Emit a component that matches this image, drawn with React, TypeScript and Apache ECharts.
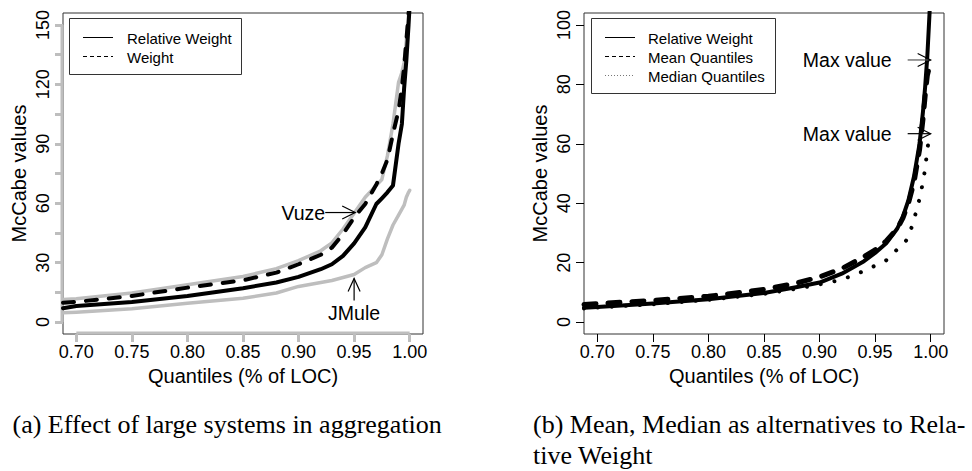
import React, { useEffect, useRef } from "react";
import * as echarts from "echarts";

// ---------- data ----------
const xTicks = [0.7, 0.75, 0.8, 0.85, 0.9, 0.95, 1.0];
const yTicksA = [0, 15, 30, 45, 60, 75, 90, 105, 120, 135, 150];
const yLabelsA = [0, 30, 60, 90, 120, 150];
const yTicksB = [0, 20, 40, 60, 80, 100];

// panel (a)
const quantA = [0.688, 0.7, 0.75, 0.8, 0.85, 0.88, 0.9, 0.92, 0.93, 0.94, 0.95, 0.96, 0.97, 0.975, 0.98, 0.985, 0.99, 0.993, 0.995, 0.997, 0.999, 1.0];
const relWeightA = [7, 8.1, 10.2, 13.2, 17.1, 20, 22.8, 26.7, 29.2, 33.4, 39.7, 47.8, 59.6, 62.5, 65.5, 69, 90, 100, 118, 132, 150, 160];
const weightA = [9.8, 10.2, 13.2, 17.4, 21.1, 25, 29.2, 34, 37.6, 44.4, 52.8, 59.6, 69.5, 75, 82, 95, 106.8, 118.6, 128.7, 142, 155.7, 160];
const vuzeA = [11.4, 11.8, 14.7, 18.9, 23, 27, 31, 36, 40, 47, 55, 63, 69, 72, 84, 100, 121, 126, 131, 142, 155, 160];
const jmuleA = [4.7, 5, 6.7, 9.5, 12, 14.7, 18, 20, 21, 22.5, 24, 27.5, 30, 34, 42, 49, 54, 57, 59, 63, 65.5, 66.5];

// panel (b)
const quantB = [0.688, 0.7, 0.75, 0.8, 0.85, 0.88, 0.9, 0.92, 0.94, 0.95, 0.96, 0.97, 0.975, 0.98, 0.985, 0.99, 0.993, 0.995, 0.997, 0.999, 1.0];
const relWeightB = [4.8, 5.1, 6.25, 7.7, 9.8, 11.8, 13.3, 16.3, 20.5, 23.3, 26.5, 31.5, 35.5, 41, 49, 60, 70.5, 79, 89.5, 104, 115];
const meanQB = [5.9, 6.2, 7.3, 8.7, 11, 13.2, 15.2, 18, 22, 24.3, 27.3, 31.5, 35, 40, 47, 58, 68, 76, 83, 86, 88.2];
const medianQB = [4.6, 4.9, 6, 7.5, 9.5, 11.3, 12.7, 14.3, 17.2, 19, 20.8, 24.5, 26, 28.5, 34.5, 41.5, 47, 51.5, 58, 63, 63.4];

const xTitle = "Quantiles (% of LOC)";
const yTitle = "McCabe values";
const legendA = ["Relative Weight", "Weight"];
const legendB = ["Relative Weight", "Mean Quantiles", "Median Quantiles"];
const captionA = "(a) Effect of large systems in aggregation";
const captionB1 = "(b) Mean, Median as alternatives to Rela-";
const captionB2 = "tive Weight";

const zip = (xs: number[], ys: number[]) => xs.map((x, i) => [x, ys[i]]);

const SANS = "Liberation Sans";
const SERIF = "Liberation Serif";

export default function App() {
  const ref = useRef<HTMLDivElement>(null);
  useEffect(() => {
    const el = ref.current!;
    const chart = echarts.init(el, undefined, { renderer: "svg" });

    const xAxisFor = (gridIndex: number, tickColor: string, tickWidth: number) => ({
      type: "value",
      gridIndex,
      min: 0.688,
      max: 1.012,
      axisLine: { show: false, onZero: false },
      splitLine: { show: false },
      axisTick: { show: true, customValues: xTicks, length: 8, lineStyle: { color: tickColor, width: tickWidth } },
      axisLabel: {
        customValues: xTicks,
        formatter: (v: number) => v.toFixed(2),
        margin: 9,
        fontSize: 18,
        color: "#000",
        fontFamily: SANS,
      },
      name: xTitle,
      nameLocation: "middle",
      nameGap: 32,
      nameTextStyle: { fontSize: 20, color: "#000", fontFamily: SANS },
    });

    const yAxisFor = (
      gridIndex: number,
      min: number,
      max: number,
      ticks: number[],
      labels: number[],
      tickColor: string,
      tickWidth: number
    ) => ({
      type: "value",
      gridIndex,
      min,
      max,
      axisLine: { show: false, onZero: false },
      splitLine: { show: false },
      axisTick: { show: true, customValues: ticks, length: 8, lineStyle: { color: tickColor, width: tickWidth } },
      axisLabel: { customValues: labels, rotate: 90, margin: 11, fontSize: 18, color: "#000", fontFamily: SANS },
      name: yTitle,
      nameLocation: "middle",
      nameGap: 34,
      nameTextStyle: { fontSize: 20, color: "#000", fontFamily: SANS },
    });

    const line = (xi: number, data: number[][], color: string, width: number, type: any, z: number) => ({
      type: "line",
      xAxisIndex: xi,
      yAxisIndex: xi,
      data,
      symbol: "none",
      showSymbol: false,
      silent: true,
      z,
      lineStyle: { color, width, type, cap: "round", join: "round" },
    });

    chart.setOption({
      animation: false,
      backgroundColor: "#fff",
      textStyle: { fontFamily: SANS },
      grid: [
        { left: 63, top: 13, width: 360, height: 321, show: true, borderColor: "#333", borderWidth: 1, backgroundColor: "transparent" },
        { left: 584, top: 13, width: 360, height: 321, show: true, borderColor: "#333", borderWidth: 1, backgroundColor: "transparent" },
      ],
      xAxis: [xAxisFor(0, "#bebebe", 3), xAxisFor(1, "#000", 1)],
      yAxis: [
        yAxisFor(0, -6, 156, yTicksA, yLabelsA, "#bebebe", 3),
        yAxisFor(1, -4, 104, yTicksB, yTicksB, "#000", 1),
      ],
      series: [
        line(0, zip(quantA, vuzeA), "#bebebe", 3.5, "solid", 2),
        line(0, zip(quantA, jmuleA), "#bebebe", 3.5, "solid", 2),
        line(0, zip(quantA, weightA), "#000", 4, [11, 12], 3),
        line(0, zip(quantA, relWeightA), "#000", 4, "solid", 4),
        line(1, zip(quantB, medianQB), "#000", 4, [0.01, 14], 2),
        line(1, zip(quantB, meanQB), "#000", 5, [12, 12], 3),
        line(1, zip(quantB, relWeightB), "#000", 4, "solid", 4),
      ],
    });

    const px = (g: number, p: number[]) => chart.convertToPixel({ gridIndex: g } as any, p) as number[];

    const arrowRight = (tip: number[], len: number, color: string) => [
      { type: "line", shape: { x1: tip[0] - len, y1: tip[1], x2: tip[0], y2: tip[1] }, style: { stroke: color, lineWidth: 1.2 }, z: 10 },
      {
        type: "polyline",
        shape: { points: [[tip[0] - 13, tip[1] - 6.5], tip, [tip[0] - 13, tip[1] + 6.5]] },
        style: { stroke: "#000", lineWidth: 1.2, fill: "none" },
        z: 10,
      },
    ];
    const arrowUp = (tip: number[], len: number) => [
      { type: "line", shape: { x1: tip[0], y1: tip[1] + len, x2: tip[0], y2: tip[1] }, style: { stroke: "#000", lineWidth: 1.2 }, z: 10 },
      {
        type: "polyline",
        shape: { points: [[tip[0] - 6, tip[1] + 13], tip, [tip[0] + 6, tip[1] + 13]] },
        style: { stroke: "#000", lineWidth: 1.2, fill: "none" },
        z: 10,
      },
    ];
    const txt = (text: string, x: number, y: number, size: number, align: string, family = SANS) => ({
      type: "text",
      x,
      y,
      z: 10,
      style: { text, fontSize: size, fontFamily: family, fill: "#000", align, verticalAlign: "middle" },
    });

    // axis lines (R-style, from first to last tick)
    const a0 = px(0, [0.7, -6]);
    const a1 = px(0, [1.0, -6]);
    const b0 = px(0, [0.688, 0]);
    const b1 = px(0, [0.688, 150]);

    const vuzeTip = px(0, [0.951, 55.3]);
    const jmuleTip = px(0, [0.95, 22]);
    const max1 = px(1, [1.0, 88.2]);
    const max2 = px(1, [1.0, 63.4]);

    const legendBox = (x: number, y: number, w: number, h: number) => ({
      type: "rect",
      shape: { x, y, width: w, height: h },
      style: { stroke: "#333", lineWidth: 1, fill: "#fff" },
      z: 9,
    });
    const legendLine = (x: number, y: number, dash: any, color = "#000") => ({
      type: "line",
      shape: { x1: x, y1: y, x2: x + 30, y2: y },
      style: { stroke: color, lineWidth: 1, lineDash: dash },
      z: 10,
    });

    chart.setOption({
      graphic: [
        { type: "line", shape: { x1: a0[0], y1: a0[1] - 1, x2: a1[0], y2: a1[1] - 1 }, style: { stroke: "#bebebe", lineWidth: 3 }, z: 1 },
        { type: "line", shape: { x1: b0[0] - 1, y1: b0[1], x2: b1[0] - 1, y2: b1[1] }, style: { stroke: "#bebebe", lineWidth: 3 }, z: 1 },

        legendBox(69.5, 18.5, 172, 56),
        legendLine(83, 37.5, null),
        legendLine(83, 56.5, [4, 3]),
        txt(legendA[0], 127, 38, 15, "left"),
        txt(legendA[1], 127, 57, 15, "left"),

        legendBox(591.5, 18.5, 184, 75),
        legendLine(605, 37.5, null),
        legendLine(605, 56.5, [4, 3]),
        legendLine(605, 75.5, [1, 2], "#777"),
        txt(legendB[0], 648, 38, 15, "left"),
        txt(legendB[1], 648, 57, 15, "left"),
        txt(legendB[2], 648, 76, 15, "left"),

        ...arrowRight(vuzeTip, 30, "#000"),
        txt("Vuze", vuzeTip[0] - 30, vuzeTip[1], 19.5, "right"),
        ...arrowUp(jmuleTip, 22),
        txt("JMule", jmuleTip[0], jmuleTip[1] + 34, 19.5, "center"),

        ...arrowRight(max1, 23, "#555"),
        txt("Max value", max1[0] - 39, max1[1], 19.5, "right"),
        ...arrowRight(max2, 23, "#000"),
        txt("Max value", max2[0] - 39, max2[1], 19.5, "right"),

        txt(captionA, 12.5, 424, 26, "left", SERIF),
        txt(captionB1, 533, 424, 26, "left", SERIF),
        txt(captionB2, 533, 455, 26, "left", SERIF),
      ],
    });

    return () => chart.dispose();
  }, []);

  return <div ref={ref} style={{ position: "absolute", left: 0, top: 0, width: 972, height: 471 }} />;
}
